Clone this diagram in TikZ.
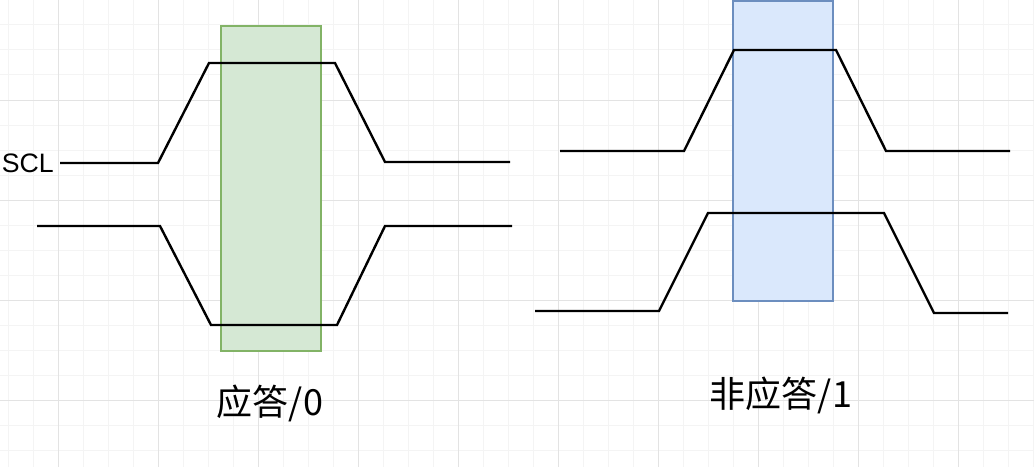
\documentclass[tikz,border=0pt]{standalone}
\usepackage{fontspec}
\setmainfont{Liberation Sans}
\newfontfamily\cjk{Noto Sans CJK SC}
\definecolor{gridminor}{HTML}{F4F4F4}
\definecolor{gridmajor}{HTML}{E3E3E3}
\definecolor{ackfill}{HTML}{D5E8D4}
\definecolor{ackline}{HTML}{82B366}
\definecolor{nackfill}{HTML}{DAE8FC}
\definecolor{nackline}{HTML}{6C8EBF}

\begin{document}
\begin{tikzpicture}[x=0.75pt,y=-0.75pt]
                \tikzstyle{every node}+=[inner sep=0pt]
                \tikzstyle{wave}=[black, line width=1.8pt, line join=miter]
                \useasboundingbox (0,0) rectangle (1034,467);
                \fill [white] (0,0) rectangle (1034,467);
                % grid
                \foreach \gx in {8,33,...,1033}
                    \draw [gridminor, line width=0.75pt] (\gx,0) -- (\gx,467);
                \foreach \gy in {25,50,...,450}
                    \draw [gridminor, line width=0.75pt] (0,\gy) -- (1034,\gy);
                \foreach \gx in {58,158,...,958}
                    \draw [gridmajor, line width=0.75pt] (\gx,0) -- (\gx,467);
                \foreach \gy in {0,100,...,400}
                    \draw [gridmajor, line width=0.75pt] (0,\gy) -- (1034,\gy);
                % sampling windows
                \draw [ackline, fill=ackfill, line width=1.6pt] (221,26) rectangle (321,351);
                \draw [nackline, fill=nackfill, line width=1.6pt] (733,1) rectangle (833,301);
                % ack
                \node [anchor=east, font=\fontsize{20}{24}\selectfont] (scl) at (54,163) {SCL};
                \draw [wave] (scl.east) ++(6,0) -- (158,163) -- (209,63) -- (335,63) -- (385,162) -- (510,162);
                \draw [wave] (37,226) -- (160,226) -- (211,325) -- (337,325) -- (385,226) -- (512,226);
                \node [font=\cjk\fontsize{27}{32}\selectfont] (ack) at (270,403) {应答/0};
                % no ack
                \draw [wave] (560,151) -- (684,151) -- (734,50) -- (836,50) -- (886,151) -- (1010,151);
                \draw [wave] (535,311) -- (659,311) -- (708,213) -- (884,213) -- (934,313) -- (1008,313);
                \node [font=\cjk\fontsize{27}{32}\selectfont] (nack) at (781,395) {非应答/1};
            \end{tikzpicture}
\end{document}
